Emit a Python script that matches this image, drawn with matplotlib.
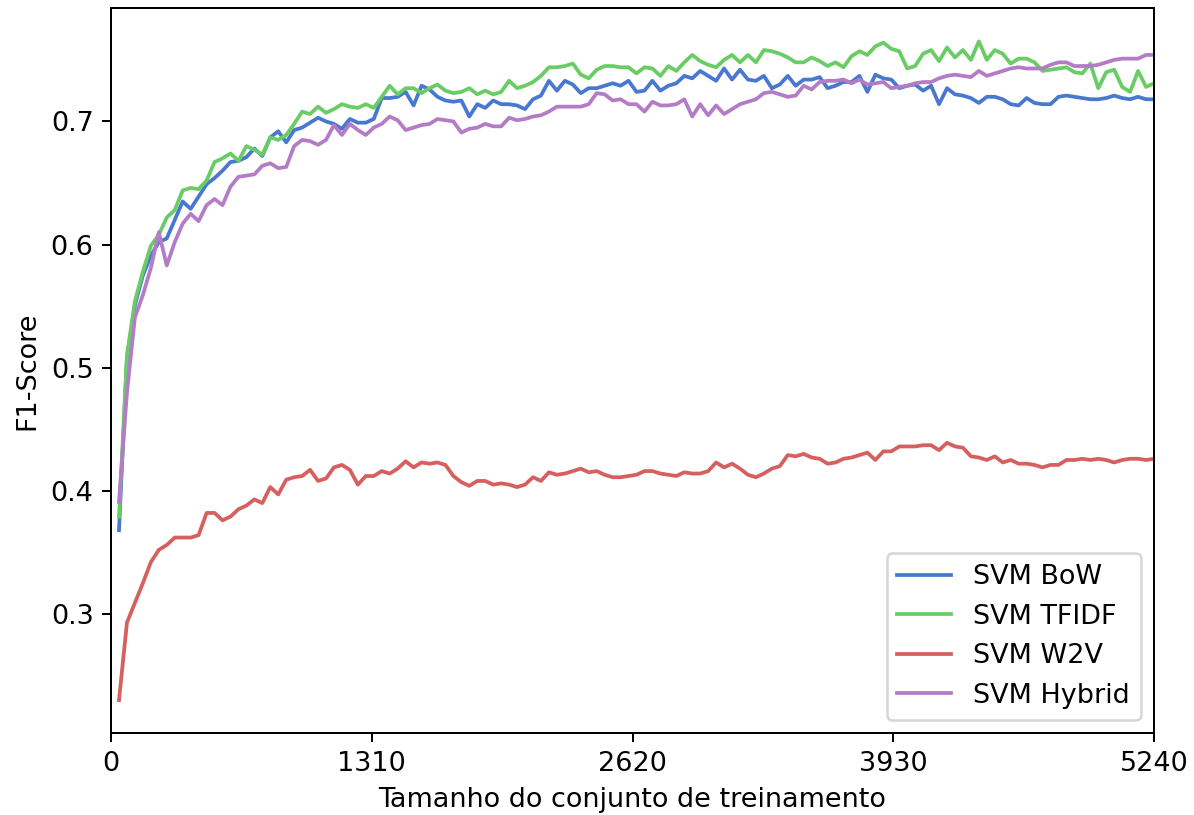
import numpy as np
import matplotlib
matplotlib.use('Agg')
import matplotlib.pyplot as plt

plt.rcParams['font.size'] = 10.8

# tamanhos do conjunto de treinamento (passo de 40 exemplos)
tamanhos = np.arange(40, 5241, 40)

svm_bow = [0.368, 0.508, 0.551, 0.575, 0.591, 0.602, 0.605, 0.620, 0.635, 0.629,
           0.639, 0.649, 0.654, 0.660, 0.667, 0.668, 0.671, 0.678, 0.672, 0.687,
           0.692, 0.683, 0.693, 0.695, 0.699, 0.703, 0.700, 0.698, 0.694, 0.702,
           0.699, 0.699, 0.702, 0.719, 0.719, 0.720, 0.724, 0.713, 0.729, 0.726,
           0.720, 0.717, 0.716, 0.717, 0.704, 0.714, 0.711, 0.717, 0.714, 0.714,
           0.713, 0.710, 0.718, 0.721, 0.733, 0.725, 0.733, 0.730, 0.723, 0.727,
           0.727, 0.729, 0.731, 0.729, 0.733, 0.724, 0.725, 0.733, 0.725, 0.729,
           0.731, 0.737, 0.735, 0.741, 0.737, 0.733, 0.743, 0.734, 0.742, 0.734,
           0.733, 0.737, 0.727, 0.730, 0.737, 0.729, 0.734, 0.734, 0.736, 0.727,
           0.729, 0.732, 0.732, 0.737, 0.724, 0.738, 0.735, 0.734, 0.727, 0.729,
           0.730, 0.725, 0.729, 0.714, 0.727, 0.722, 0.721, 0.719, 0.715, 0.720,
           0.720, 0.718, 0.714, 0.713, 0.719, 0.715, 0.714, 0.714, 0.720, 0.721,
           0.720, 0.719, 0.718, 0.718, 0.719, 0.721, 0.719, 0.718, 0.720, 0.718,
           0.718]

svm_tfidf = [0.379, 0.510, 0.554, 0.578, 0.599, 0.608, 0.622, 0.628, 0.644, 0.646,
             0.645, 0.652, 0.667, 0.670, 0.674, 0.668, 0.680, 0.677, 0.673, 0.687,
             0.685, 0.689, 0.698, 0.708, 0.706, 0.712, 0.707, 0.710, 0.714, 0.712,
             0.711, 0.714, 0.711, 0.720, 0.729, 0.722, 0.727, 0.727, 0.723, 0.727,
             0.730, 0.725, 0.723, 0.724, 0.727, 0.722, 0.725, 0.722, 0.724, 0.733,
             0.727, 0.729, 0.732, 0.737, 0.744, 0.744, 0.745, 0.747, 0.738, 0.735,
             0.742, 0.745, 0.745, 0.744, 0.744, 0.739, 0.744, 0.743, 0.737, 0.745,
             0.741, 0.748, 0.754, 0.749, 0.746, 0.744, 0.750, 0.754, 0.748, 0.754,
             0.748, 0.758, 0.757, 0.755, 0.752, 0.748, 0.748, 0.752, 0.749, 0.745,
             0.748, 0.744, 0.753, 0.757, 0.754, 0.761, 0.764, 0.759, 0.757, 0.743,
             0.745, 0.755, 0.758, 0.749, 0.760, 0.752, 0.758, 0.750, 0.765, 0.750,
             0.758, 0.755, 0.747, 0.751, 0.751, 0.748, 0.741, 0.742, 0.743, 0.744,
             0.740, 0.739, 0.747, 0.727, 0.740, 0.742, 0.728, 0.724, 0.741, 0.728,
             0.731]

svm_w2v = [0.230, 0.293, 0.309, 0.325, 0.342, 0.352, 0.356, 0.362, 0.362, 0.362,
           0.364, 0.382, 0.382, 0.376, 0.379, 0.385, 0.388, 0.393, 0.390, 0.403,
           0.397, 0.409, 0.411, 0.412, 0.417, 0.408, 0.410, 0.419, 0.421, 0.417,
           0.405, 0.412, 0.412, 0.416, 0.414, 0.418, 0.424, 0.419, 0.423, 0.422,
           0.423, 0.421, 0.412, 0.407, 0.404, 0.408, 0.408, 0.405, 0.406, 0.405,
           0.403, 0.405, 0.411, 0.408, 0.415, 0.413, 0.414, 0.416, 0.418, 0.415,
           0.416, 0.413, 0.411, 0.411, 0.412, 0.413, 0.416, 0.416, 0.414, 0.413,
           0.412, 0.415, 0.414, 0.414, 0.416, 0.423, 0.419, 0.422, 0.418, 0.413,
           0.411, 0.414, 0.418, 0.420, 0.429, 0.428, 0.430, 0.427, 0.426, 0.422,
           0.423, 0.426, 0.427, 0.429, 0.431, 0.425, 0.432, 0.432, 0.436, 0.436,
           0.436, 0.437, 0.437, 0.433, 0.439, 0.436, 0.435, 0.428, 0.427, 0.425,
           0.428, 0.423, 0.425, 0.422, 0.422, 0.421, 0.419, 0.421, 0.421, 0.425,
           0.425, 0.426, 0.425, 0.426, 0.425, 0.423, 0.425, 0.426, 0.426, 0.425,
           0.426]

svm_hybrid = [0.391, 0.480, 0.541, 0.559, 0.581, 0.610, 0.583, 0.602, 0.617, 0.625,
              0.619, 0.632, 0.637, 0.632, 0.647, 0.655, 0.656, 0.657, 0.664, 0.666,
              0.662, 0.663, 0.680, 0.685, 0.684, 0.681, 0.685, 0.697, 0.689, 0.698,
              0.693, 0.689, 0.695, 0.698, 0.704, 0.701, 0.693, 0.695, 0.697, 0.698,
              0.702, 0.701, 0.700, 0.691, 0.694, 0.695, 0.698, 0.696, 0.696, 0.703,
              0.701, 0.702, 0.704, 0.705, 0.708, 0.712, 0.712, 0.712, 0.712, 0.714,
              0.723, 0.722, 0.717, 0.718, 0.714, 0.714, 0.708, 0.716, 0.713, 0.713,
              0.714, 0.718, 0.704, 0.714, 0.705, 0.713, 0.706, 0.710, 0.714, 0.716,
              0.718, 0.723, 0.724, 0.722, 0.720, 0.721, 0.729, 0.726, 0.732, 0.733,
              0.733, 0.734, 0.731, 0.734, 0.730, 0.731, 0.732, 0.727, 0.728, 0.729,
              0.731, 0.732, 0.732, 0.735, 0.737, 0.738, 0.737, 0.736, 0.741, 0.737,
              0.739, 0.741, 0.743, 0.744, 0.743, 0.743, 0.743, 0.746, 0.748, 0.748,
              0.745, 0.745, 0.745, 0.746, 0.748, 0.750, 0.751, 0.751, 0.751, 0.754,
              0.754]

nomes = ['SVM BoW', 'SVM TFIDF', 'SVM W2V', 'SVM Hybrid']
cores = ['#4878CF', '#6ACC65', '#D65F5F', '#B47CC7']  # paleta muted antiga do seaborn
xticks = [0, 1310, 2620, 3930, 5240]

fig = plt.figure(figsize=(1194 / 180, 815 / 180), dpi=180)
ax = fig.add_subplot(111)
fig.subplots_adjust(left=0.093, right=0.9665, top=0.9896, bottom=0.1006)

for serie, nome, cor in zip([svm_bow, svm_tfidf, svm_w2v, svm_hybrid], nomes, cores):
    ax.plot(tamanhos, serie, color=cor, lw=1.5, label=nome)

ax.set_xlim(0, 5240)
ax.set_xticks(xticks)
ax.set_xlabel('Tamanho do conjunto de treinamento')
ax.set_ylabel('F1-Score')
ax.legend(loc='lower right')

fig.savefig('out.png', dpi=180)
